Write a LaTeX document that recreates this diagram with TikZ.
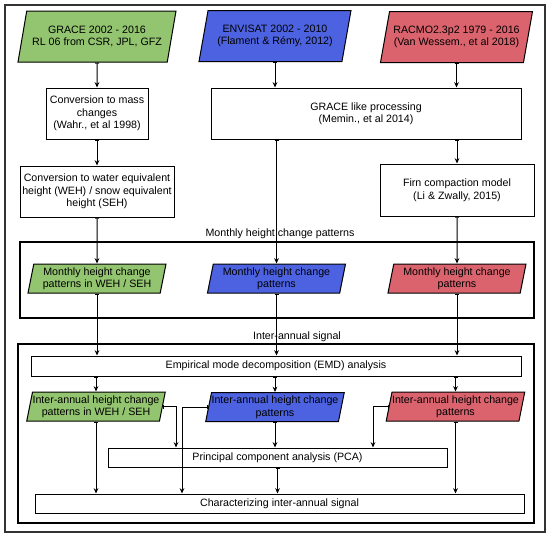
\documentclass[tikz,border=0pt]{standalone}
\usepackage{fontspec}
\newfontfamily\arial{Liberation Sans}
\usetikzlibrary{shapes.geometric,arrows.meta}
\definecolor{gracegreen}{RGB}{147,196,111}
\definecolor{envblue}{RGB}{77,98,224}
\definecolor{racred}{RGB}{219,99,110}
\tikzset{
  box/.style={draw, line width=0.75pt, align=center, inner sep=1pt},
  toppara/.style={draw, line width=0.75pt, align=center, trapezium,
    trapezium left angle=70, trapezium right angle=110,
    trapezium stretches body, inner xsep=1pt, inner ysep=1pt,
    minimum width=114pt, minimum height=38.25pt},
  midpara/.style={draw, line width=0.75pt, align=center, trapezium,
    trapezium left angle=77, trapezium right angle=103,
    trapezium stretches body, inner xsep=0pt, inner ysep=1pt,
    minimum width=103.5pt, minimum height=21.75pt},
  conn/.style={line width=0.75pt, {Bar[width=3pt]}-{Stealth[length=4pt,width=3.5pt]}},
  group/.style={draw, line width=0.8pt},
}
\begin{document}
\begin{tikzpicture}[x=0.75pt, y=-0.75pt, font=\arial\fontsize{8}{9.4}\selectfont]
  \useasboundingbox (0,0) rectangle (550,537);
  \draw[line width=1.3pt, black!80] (5,5) rectangle (545,532);
  % data sources
  \node[toppara, fill=gracegreen, minimum width=118.5pt] (grace) at (97,36.5) {GRACE 2002 - 2016\\RL 06 from CSR, JPL, GFZ};
  \node[toppara, fill=envblue] (envisat) at (275,36) {ENVISAT 2002 - 2010\\(Flament \& Rémy, 2012)};
  \node[toppara, fill=racred] (racmo) at (456.5,37) {RACMO2.3p2 1979 - 2016\\(Van Wessem., et al 2018)};
  % processing
  \node[box, minimum width=76.5pt, minimum height=38.25pt] (mass) at (97,113.5) {Conversion to mass\\changes\\(Wahr., et al 1998)};
  \node[box, minimum width=115.5pt, minimum height=38.25pt] (weh) at (97,191.5) {Conversion to water equivalent\\height (WEH) / snow equivalent\\height (SEH)};
  \node[box, minimum width=232.5pt, minimum height=38.25pt] (glike) at (366,113.5) {GRACE like processing\\(Memin., et al 2014)};
  \node[box, minimum width=115.5pt, minimum height=39pt] (firn) at (457,190) {Firn compaction model\\(Li \& Zwally, 2015)};
  % monthly patterns
  \draw[group] (20,242) rectangle (534,318);
  \node (mlabel) at (280,234) {Monthly height change patterns};
  \node[midpara, fill=gracegreen] (mgreen) at (97,278.5) {Monthly height change\\patterns in WEH / SEH};
  \node[midpara, fill=envblue] (mblue) at (276.5,278.5) {Monthly height change\\patterns};
  \node[midpara, fill=racred] (mred) at (457,278.5) {Monthly height change\\patterns};
  % inter-annual signal
  \draw[group] (18,344) rectangle (534,523);
  \node (ilabel) at (297,337) {Inter-annual signal};
  \node[box, minimum width=367.5pt, minimum height=15pt] (emd) at (276,366) {Empirical mode decomposition (EMD) analysis};
  \node[midpara, fill=gracegreen] (igreen) at (96,406.5) {Inter-annual height change\\patterns in WEH / SEH};
  \node[midpara, fill=envblue] (iblue) at (275,407) {Inter-annual height change\\patterns};
  \node[midpara, fill=racred] (ired) at (455.5,406.5) {Inter-annual height change\\patterns};
  \node[box, minimum width=254.25pt, minimum height=14.25pt] (pca) at (277.5,457.5) {Principal component analysis (PCA)};
  \node[box, minimum width=366.75pt, minimum height=14.25pt] (char) at (279.5,503.5) {Characterizing inter-annual signal};
  % connectors
  \draw[conn] (grace) -- (mass);
  \draw[conn] (mass) -- (weh);
  \draw[conn] (envisat.south) -- (envisat.south |- glike.north);
  \draw[conn] (racmo.south) -- (racmo.south |- glike.north);
  \draw[conn] (glike.south -| firn.north) -- (firn.north);
  \draw[conn] (glike.south -| mblue.north) -- (mblue.north);
  \draw[conn] (weh) -- (mgreen);
  \draw[conn] (firn) -- (mred);
  \foreach \m in {mgreen,mblue,mred}
    \draw[conn] (\m.south) -- (\m.south |- emd.north);
  \foreach \i in {igreen,iblue,ired}
    \draw[conn] (emd.south -| \i.north) -- (\i.north);
  \draw[conn] (igreen.east) -| (176,0 |- pca.north);
  \draw[conn] (igreen.south) -- (igreen.south |- char.north);
  \draw[conn] (iblue.west) -| (182,0 |- char.north);
  \draw[conn] (iblue.south) -- (iblue.south |- pca.north);
  \draw[conn] (ired.west) -| (373,0 |- pca.north);
  \draw[conn] (ired.south) -- (ired.south |- char.north);
  \draw[conn] (pca.south) -- (pca.south |- char.north);
\end{tikzpicture}
\end{document}
